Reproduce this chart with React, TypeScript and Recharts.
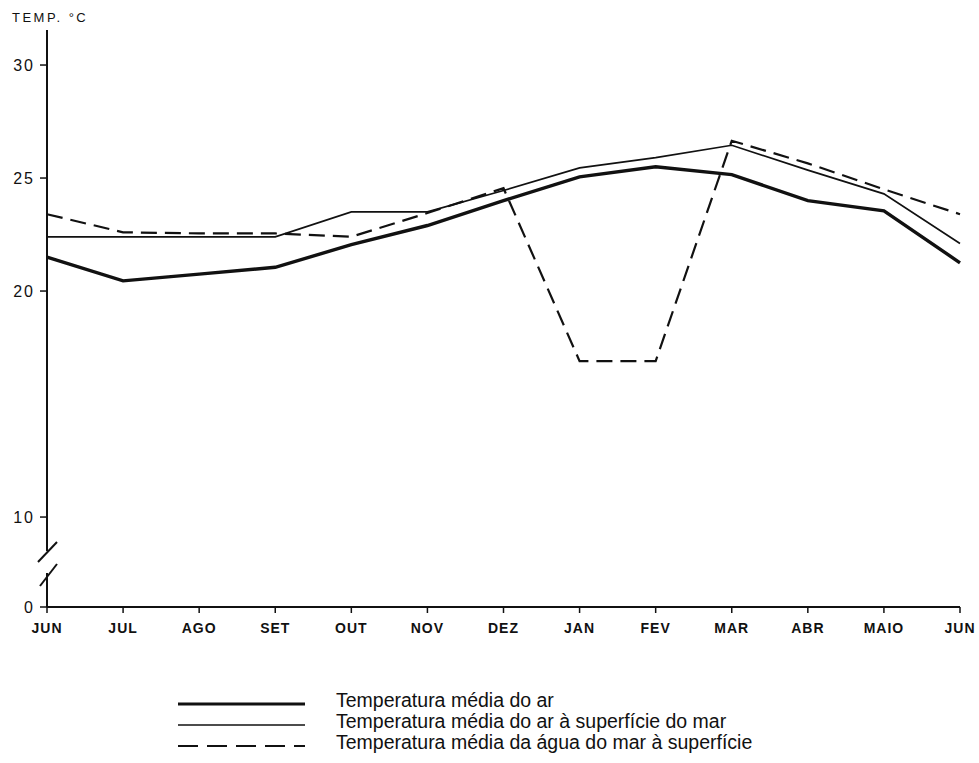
import { Line, LineChart, XAxis, YAxis } from 'recharts';

const months = ['JUN', 'JUL', 'AGO', 'SET', 'OUT', 'NOV', 'DEZ', 'JAN', 'FEV', 'MAR', 'ABR', 'MAIO', 'JUN'];
const airTemp = [21.5, 20.45, 20.75, 21.05, 22.05, 22.9, 24.0, 25.05, 25.5, 25.15, 24.0, 23.55, 21.25];
const airAtSeaSurface = [22.4, 22.4, 22.4, 22.4, 23.5, 23.5, 24.45, 25.45, 25.9, 26.45, 25.35, 24.3, 22.1];
const seaWaterSurface = [23.4, 22.6, 22.55, 22.55, 22.4, 23.45, 24.55, 16.9, 16.9, 26.65, 25.65, 24.5, 23.4];

// the axis is broken below 10: "0" sits where the linear scale would read ~6
const BREAK_BASE = 6.02;
const yTicks = [BREAK_BASE, 10, 20, 25, 30];
const yTickLabels = ['0', '10', '20', '25', '30'];

const seriesNames = [
  'Temperatura média do ar',
  'Temperatura média do ar à superfície do mar',
  'Temperatura média da água do mar à superfície',
];

const data = months.map((month, i) => ({
  month,
  air: airTemp[i],
  airSea: airAtSeaSurface[i],
  water: seaWaterSurface[i],
}));

const series = [
  { key: 'air', name: seriesNames[0], width: 3.4, legendWidth: 2.8, dash: undefined },
  { key: 'airSea', name: seriesNames[1], width: 1.7, legendWidth: 1.4, dash: undefined },
  { key: 'water', name: seriesNames[2], width: 2.2, legendWidth: 2.2, dash: '16 8' },
];

const INK = '#111';
const FONT = '"Liberation Sans", Arial, Helvetica, sans-serif';

export default function App() {
  return (
    <div style={{ position: 'absolute', left: 0, top: 0, width: 979, height: 763, background: '#fff', fontFamily: FONT }}>
      <LineChart
        width={979}
        height={640}
        data={data}
        margin={{ top: 30, right: 19, bottom: 3, left: 0 }}
        style={{ position: 'absolute', left: 0, top: 0 }}
      >
        <XAxis
          dataKey="month"
          interval={0}
          height={30}
          tickSize={6}
          tickMargin={10}
          axisLine={{ stroke: INK, strokeWidth: 2 }}
          tickLine={{ stroke: INK, strokeWidth: 1.5 }}
          tick={{ fill: INK, fontSize: 14, fontWeight: 'bold', letterSpacing: 1, fontFamily: FONT }}
        />
        <YAxis
          type="number"
          width={47}
          domain={[BREAK_BASE, 31.55]}
          allowDataOverflow
          ticks={yTicks}
          interval={0}
          tickSize={7}
          tickMargin={5}
          tickFormatter={(v: number) => yTickLabels[yTicks.indexOf(v)] ?? ''}
          axisLine={{ stroke: INK, strokeWidth: 2 }}
          tickLine={{ stroke: INK, strokeWidth: 1.5 }}
          tick={{ fill: INK, fontSize: 16, letterSpacing: 2, fontFamily: FONT }}
        />
        {series.map((s) => (
          <Line
            key={s.key}
            type="linear"
            dataKey={s.key}
            name={s.name}
            stroke={INK}
            strokeWidth={s.width}
            strokeDasharray={s.dash}
            dot={false}
            activeDot={false}
            strokeLinejoin="miter"
            isAnimationActive={false}
          />
        ))}
      </LineChart>

      {/* axis title, axis break marks and legend */}
      <svg width={979} height={763} style={{ position: 'absolute', left: 0, top: 0, pointerEvents: 'none' }}>
        <text x={12} y={22} fontSize={13} letterSpacing={2.5} fill={INK} fontFamily={FONT}>
          TEMP. °C
        </text>
        <rect x={42} y={551} width={12} height={22} fill="#fff" />
        <line x1={38} y1={562} x2={57} y2={542} stroke={INK} strokeWidth={2} />
        <line x1={40} y1={586} x2={57} y2={564} stroke={INK} strokeWidth={2} />

        {series.map((s, i) => (
          <g key={s.key}>
            <line
              x1={178}
              x2={305}
              y1={704 + i * 21}
              y2={704 + i * 21}
              stroke={INK}
              strokeWidth={s.legendWidth}
              strokeDasharray={s.dash ? '20 9' : undefined}
            />
            <text x={336} y={707 + i * 21} fontSize={19.5} fill={INK} fontFamily={FONT}>
              {s.name}
            </text>
          </g>
        ))}
      </svg>
    </div>
  );
}
